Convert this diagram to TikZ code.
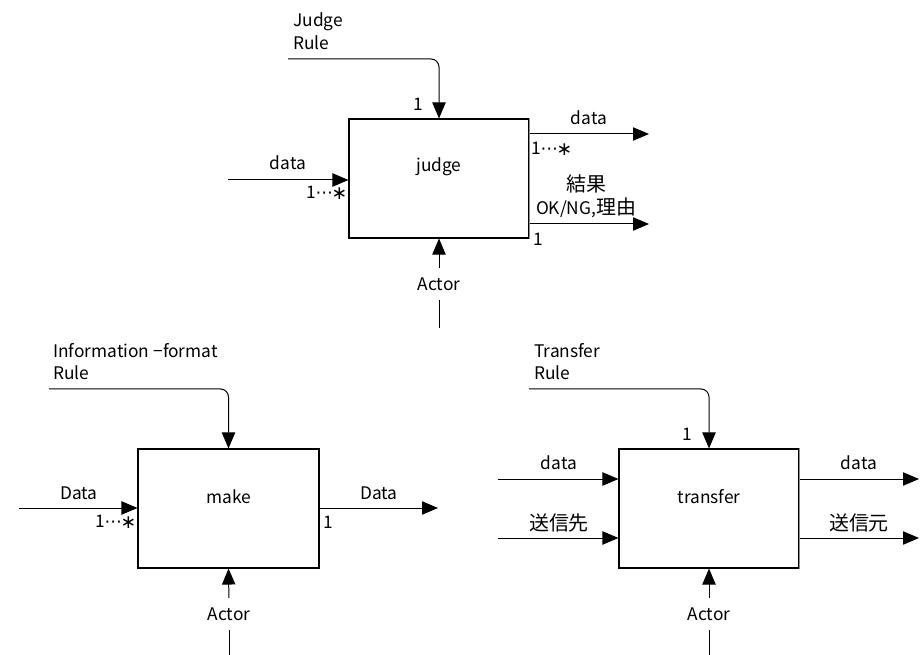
\documentclass[tikz,border=0pt]{standalone}
\usepackage{fontspec}
\setmainfont{Noto Sans CJK JP}
\newfontfamily\cjk[Scale=1.15]{Noto Sans CJK JP}
\newfontfamily\dv{DejaVu Sans}
\usetikzlibrary{arrows.meta}
\newcommand{\mult}{1{\dv\kern-0.5pt⋯\kern-1pt\raisebox{-0.5pt}{\fontsize{14}{14}\selectfont ∗}}}
\tikzset{
  lbl/.style={inner sep=0pt, font=\fontsize{13}{17}\selectfont},
  fbox/.style={draw, line width=0.8pt, minimum width=135pt, minimum height=89.25pt, inner sep=0pt},
  arr/.style={line width=0.75pt, -{Triangle[length=12pt,width=10pt]}},
  ln/.style={line width=0.75pt},
  grayedge/.style={line width=0.8pt, draw=black!45}
}
\begin{document}
\begin{tikzpicture}[x=0.75pt,y=-0.75pt]
\useasboundingbox (0,0) rectangle (924,655);
% ---------- judge ----------
\node[fbox] (judge) at (439,178.5) {};
\draw[grayedge] (judge.north east) -- (judge.south east);
\node[lbl] (judgetxt) at (439,167) {judge};
\node[lbl,align=left,anchor=west] (jrule) at (293,31.5) {Judge\\Rule};
\coordinate (jc) at (288,59);
\draw[arr,rounded corners=6pt] (jc) -| (judge.north);
\node[lbl] (j1) at (418,104) {1};
\coordinate (ji) at (228,180);
\draw[arr] (ji) -- (ji -| judge.west);
\node[lbl] (jidata) at (288,163) {data};
\node[lbl] (jimul) at (327,193) {\mult};
\coordinate (jo1) at (649,134);
\draw[arr] (jo1 -| judge.east) -- (jo1);
\node[lbl] (jodata) at (589,118) {data};
\node[lbl] (jomul) at (552,149) {\mult};
\coordinate (jo2) at (649,224);
\draw[arr] (jo2 -| judge.east) -- (jo2);
\node[lbl,align=center] (jores) at (586,196) {{\cjk 結果}\\OK/NG,{\cjk 理由}};
\node[lbl] (jo2n) at (538,239) {1};
\coordinate (ja) at (439,328);
\node[lbl] (jactor) at (439,284) {Actor};
\draw[ln,shorten >=7pt] (ja) -- (jactor.south);
\draw[arr,shorten <=7pt] (jactor.north) -- (judge.south);
% ---------- make ----------
\node[fbox,minimum width=135.75pt] (make) at (228.5,508.5) {};
\node[lbl] (maketxt) at (229,497) {make};
\node[lbl,align=left,anchor=west] (mrule) at (53,361.5) {Information −format\\Rule};
\coordinate (mc) at (49,389);
\draw[arr,rounded corners=6pt] (mc) -| (make.north);
\coordinate (mi) at (19,508);
\draw[arr] (mi) -- (mi -| make.west);
\node[lbl] (midata) at (79,493) {Data};
\node[lbl] (mimul) at (116,522) {\mult};
\coordinate (mo) at (438,508);
\draw[arr] (mo -| make.east) -- (mo);
\node[lbl] (modata) at (379,493) {Data};
\node[lbl] (mo1) at (328,522) {1};
\coordinate (ma) at (229,655);
\node[lbl] (mactor) at (229,614) {Actor};
\draw[ln,shorten >=7pt] (ma) -- (mactor.south);
\draw[arr,shorten <=7pt] (mactor.north) -- (make.south);
% ---------- transfer ----------
\node[fbox] (tr) at (709,508.5) {};
\draw[grayedge] (tr.north east) -- (tr.south east);
\node[lbl] (trtxt) at (709,497) {transfer};
\node[lbl,align=left,anchor=west] (trule) at (534,361.5) {Transfer\\Rule};
\coordinate (tc) at (529,389);
\draw[arr,rounded corners=6pt] (tc) -| (tr.north);
\node[lbl] (t1) at (687,434) {1};
\coordinate (ti1) at (498,479);
\draw[arr] (ti1) -- (ti1 -| tr.west);
\node[lbl] (tidata) at (559,463) {data};
\coordinate (ti2) at (498,538);
\draw[arr] (ti2) -- (ti2 -| tr.west);
\node[lbl] (tidest) at (559,523) {\cjk 送信先};
\coordinate (to1) at (919,479);
\draw[arr] (to1 -| tr.east) -- (to1);
\node[lbl] (todata) at (859,463) {data};
\coordinate (to2) at (919,538);
\draw[arr] (to2 -| tr.east) -- (to2);
\node[lbl] (tosrc) at (859,523) {\cjk 送信元};
\coordinate (ta) at (709,655);
\node[lbl] (tactor) at (709,614) {Actor};
\draw[ln,shorten >=7pt] (ta) -- (tactor.south);
\draw[arr,shorten <=7pt] (tactor.north) -- (tr.south);
\end{tikzpicture}
\end{document}
